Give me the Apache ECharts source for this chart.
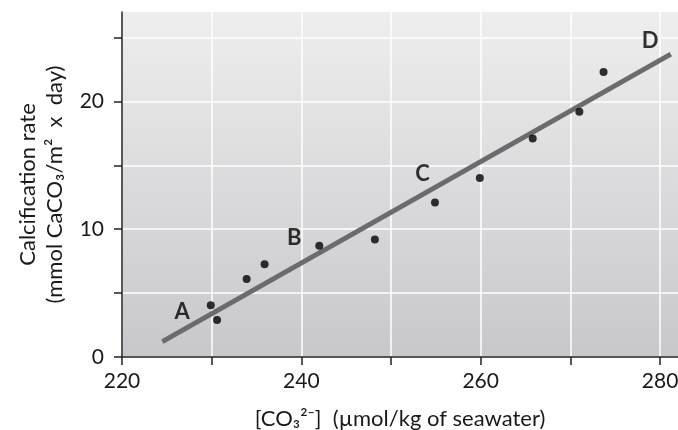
<!DOCTYPE html>
<html>
<head>
<meta charset="utf-8">
<script src="https://cdn.jsdelivr.net/npm/echarts@6/dist/echarts.min.js"></script>
<style>
html,body{margin:0;padding:0;background:#fff;}
#chart{width:678px;height:430px;}
</style>
</head>
<body>
<div id="chart"></div>
<script>
// Measured data points
const xValues = [229.9, 230.6, 233.9, 235.9, 242.0, 248.2, 254.9, 259.9, 265.8, 271.0, 273.7];
const yValues = [4.05, 2.9, 6.1, 7.25, 8.7, 9.2, 12.1, 14.0, 17.1, 19.2, 22.3];
// Regression line end points
const fitX = [224.5, 281.2];
const fitY = [1.2, 23.7];
// Letter annotations
const labelNames = ['A', 'B', 'C', 'D'];
const labelX = [226.7, 239.2, 253.5, 278.9];
const labelY = [3.5, 9.3, 14.3, 24.7];
// Ticks and tick labels
const xTicks = [220, 230, 240, 250, 260, 270, 280];
const yTicks = [0, 5, 10, 15, 20, 25];
const xTickLabels = [220, 240, 260, 280];
const yTickLabels = [0, 10, 20];

const FONT = 'Lato';
const TXT = '#1a1a1a';
const chart = echarts.init(document.getElementById('chart'), null, {renderer: 'canvas'});

const option = {
  backgroundColor: '#ffffff',
  animation: false,
  grid: {
    left: 122, top: 12, right: 0, bottom: 73,
    outerBoundsMode: 'none',
    containLabel: false,
    show: true,
    borderWidth: 0,
    backgroundColor: {
      type: 'linear', x: 0, y: 0, x2: 0, y2: 1,
      colorStops: [{offset: 0, color: '#eeeeee'}, {offset: 1, color: '#c8c8cc'}]
    }
  },
  xAxis: {
    type: 'value', min: 220, max: 282, interval: 10,
    name: '[CO\u2083\u00b2\u207b]  (\u00b5mol/kg of seawater)',
    nameLocation: 'middle', nameGap: 51,
    nameTextStyle: {fontFamily: FONT, fontSize: 22, color: TXT},
    axisLine: {show: true, onZero: false, lineStyle: {color: '#222', width: 1.5}},
    axisTick: {show: true, length: 8, customValues: xTicks, lineStyle: {color: '#222', width: 1.5}},
    axisLabel: {
      fontFamily: FONT, fontSize: 21, color: TXT, margin: 14,
      customValues: xTickLabels
    },
    splitLine: {show: true, lineStyle: {color: '#ffffff', width: 1.5}}
  },
  yAxis: {
    type: 'value', min: 0, max: 27, interval: 5,
    name: 'Calcification rate\n(mmol CaCO\u2083/m\u00b2  x  day)',
    nameLocation: 'middle', nameRotate: 90, nameGap: 54,
    nameTextStyle: {fontFamily: FONT, fontSize: 22, color: TXT, lineHeight: 27},
    axisLine: {show: true, onZero: false, lineStyle: {color: '#222', width: 1.5}},
    axisTick: {show: true, length: 8, customValues: yTicks, lineStyle: {color: '#222', width: 1.5}},
    axisLabel: {
      fontFamily: FONT, fontSize: 21, color: TXT, margin: 18,
      customValues: yTickLabels
    },
    splitLine: {show: true, lineStyle: {color: '#ffffff', width: 1.5}}
  },
  series: [
    {
      type: 'line',
      data: fitX.map((x, i) => [x, fitY[i]]),
      showSymbol: false, symbol: 'none',
      lineStyle: {color: '#6b6b6d', width: 5},
      z: 2
    },
    {
      type: 'scatter',
      data: xValues.map((x, i) => [x, yValues[i]]),
      symbol: 'circle', symbolSize: 8,
      itemStyle: {color: '#000000'},
      z: 3
    },
    {
      type: 'scatter',
      data: labelNames.map((n, i) => ({name: n, value: [labelX[i], labelY[i]]})),
      symbolSize: 0,
      label: {
        show: true, position: 'inside', formatter: p => p.name,
        fontFamily: FONT, fontWeight: 'bold', fontSize: 22, color: '#000'
      },
      z: 4
    }
  ]
};
chart.setOption(option);
</script>
</body>
</html>
